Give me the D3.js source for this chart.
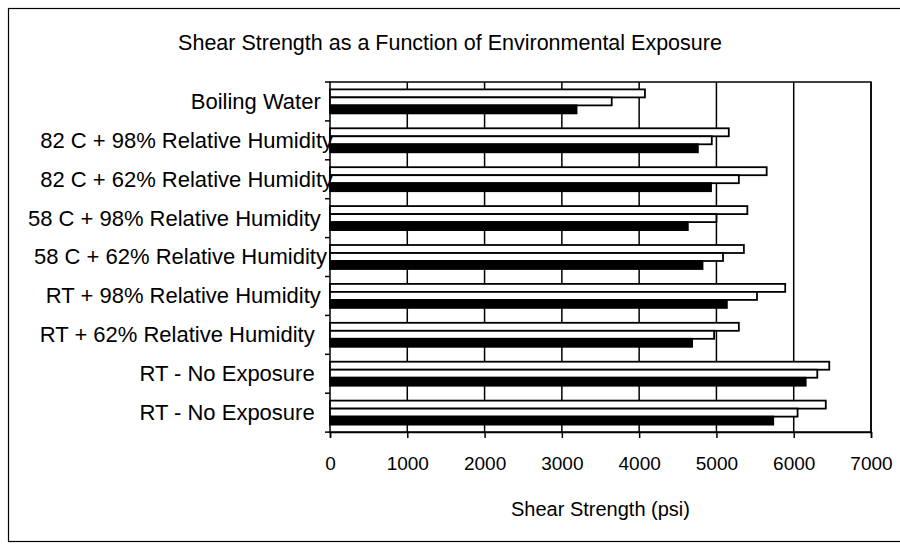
<!DOCTYPE html>
<html>
<head>
<meta charset="utf-8">
<script src="https://cdn.jsdelivr.net/npm/d3@7"></script>
<style>
  body { margin: 0; background: #fff; }
  .chart text { font-family: "Liberation Sans", Arial, sans-serif; fill: #000; }
</style>
</head>
<body>
<div class="chart"></div>
<script>
// categories top to bottom (trailing blanks as in the source sheet)
let categories = [
  "Boiling Water  ",
  "82 C + 98% Relative Humidity",
  "82 C + 62% Relative Humidity",
  "58 C + 98% Relative Humidity  ",
  "58 C + 62% Relative Humidity ",
  "RT + 98% Relative Humidity  ",
  "RT + 62% Relative Humidity   ",
  "RT - No Exposure   ",
  "RT - No Exposure   "
];
let seriesA = [4075, 5160, 5650, 5400, 5355, 5890, 5290, 6460, 6415];
let seriesB = [3645, 4940, 5290, 5000, 5085, 5525, 4970, 6305, 6050];
let seriesC = [3190, 4760, 4930, 4630, 4820, 5135, 4685, 6155, 5735];
let xTicks = [0, 1000, 2000, 3000, 4000, 5000, 6000, 7000];

let W = 900, H = 546;
let margin = { top: 82, right: 29, bottom: 114, left: 330 },
  width = W - margin.left - margin.right,
  height = H - margin.top - margin.bottom;

let svg = d3.select(".chart").append("svg")
  .attr("width", W)
  .attr("height", H);

// outer frame
svg.append("rect")
  .attr("x", 8.5).attr("y", 8.5)
  .attr("width", 895).attr("height", 533)
  .attr("fill", "none").attr("stroke", "#000").attr("stroke-width", 1.2);

svg.append("text")
  .attr("x", 450).attr("y", 50)
  .attr("text-anchor", "middle")
  .style("font-size", "21.5px")
  .text("Shear Strength as a Function of Environmental Exposure");

let g = svg.append("g")
  .attr("transform", "translate(" + margin.left + "," + margin.top + ")");

let x = d3.scaleLinear().domain([0, 7000]).range([0, width]);

let idx = categories.map((d, i) => i);
let y = d3.scaleBand().domain(idx).range([0, height])
  .paddingInner(0.383).paddingOuter(0.19);

let series = [
  { name: "A", values: seriesA, fill: "#fff" },
  { name: "B", values: seriesB, fill: "#fff" },
  { name: "C", values: seriesC, fill: "#000" }
];
let ys = d3.scaleBand().domain(series.map(s => s.name)).range([0, y.bandwidth()]);

// plot area + gridlines
g.append("rect")
  .attr("width", width).attr("height", height)
  .attr("fill", "#fff").attr("stroke", "#000").attr("stroke-width", 1.5);

g.selectAll(".grid")
  .data(xTicks.slice(1))
  .enter().append("line")
  .attr("class", "grid")
  .attr("x1", d => x(d)).attr("x2", d => x(d))
  .attr("y1", 0).attr("y2", height)
  .attr("stroke", "#000").attr("stroke-width", 1.5);

// bars
series.forEach(s => {
  g.selectAll(".bar-" + s.name)
    .data(s.values)
    .enter().append("rect")
    .attr("class", "bar-" + s.name)
    .attr("x", x(0))
    .attr("y", (d, i) => y(i) + ys(s.name))
    .attr("width", d => x(d) - x(0))
    .attr("height", ys.bandwidth())
    .attr("fill", s.fill)
    .attr("stroke", "#000")
    .attr("stroke-width", 1.8);
});

// x axis
let xAxis = d3.axisBottom(x).tickValues(xTicks).tickSize(6).tickPadding(19)
  .tickFormat(d3.format("d"));
let xAxisGroup = g.append("g")
  .attr("transform", "translate(0," + height + ")")
  .call(xAxis);
xAxisGroup.select(".domain").attr("stroke-width", 1.5);
xAxisGroup.selectAll("line").attr("stroke-width", 1.5);
xAxisGroup.selectAll("text").style("font-size", "19px");

// y axis labels at category centres, ticks at category boundaries
let yAxis = d3.axisLeft(y).tickSize(0).tickPadding(-3).tickFormat(i => categories[i]);
let yAxisGroup = g.append("g").call(yAxis);
yAxisGroup.select(".domain").remove();
yAxisGroup.selectAll("text")
  .style("font-size", "22px")
  .style("white-space", "pre")
  .attr("dy", "0.34em");

let step = y.step();
g.selectAll(".ytick")
  .data(d3.range(categories.length + 1))
  .enter().append("line")
  .attr("class", "ytick")
  .attr("x1", -5).attr("x2", 0)
  .attr("y1", d => d * step).attr("y2", d => d * step)
  .attr("stroke", "#000").attr("stroke-width", 1.5);

g.append("text")
  .attr("x", width / 2).attr("y", height + 84)
  .attr("text-anchor", "middle")
  .style("font-size", "20px")
  .text("Shear Strength (psi)");
</script>
</body>
</html>
